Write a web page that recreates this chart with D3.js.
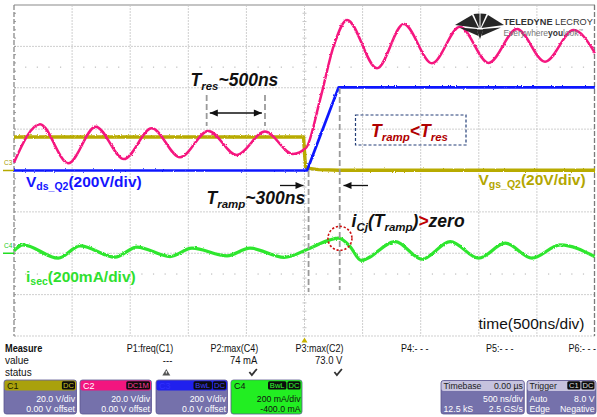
<!DOCTYPE html>
<html><head><meta charset="utf-8">
<script src="https://cdn.jsdelivr.net/npm/d3@7"></script>
<style>body{margin:0;background:#fff}svg{display:block}</style>
</head><body><svg id="c" width="597" height="417"></svg>
<script>
// ---------------- data ----------------
const timeDomain = [-2500, 2500];            // ns, 500 ns/div, 10 div
const gridTimes = d3.range(-2500, 2501, 500);
const gridDivs = d3.range(-4, 5, 1);
// C2 (pink) 20 V/div, 0 V offset  [time ns, volts]
const c2Pink = [[-2500,3.9],[-2276,22.4],[-2033,3.5],[-1797,21.2],[-1553,5.5],[-1315,20.4],[-1071,6.4],[-828,19.1],[-583,7.5],[-340,18.8],[-100,8.0],[13,10.9],[133,34],[254,60.7],[366,72.8],[624,49.4],[854,70.8],[1097,51.8],[1338,69.5],[1585,52.0],[1829,68.4],[2070,52.6],[2317,67.9],[2500,56.8]];
// C1 (yellow) Vgs_Q2 20 V/div
const c1Vgs = [[-2500,16.2],[-8,16.2],[8,2.0],[40,1.0],[120,0.4],[300,0.1],[2500,0.1]];
// C3 (blue) Vds_Q2 200 V/div
const c3Vds = [[-2500,0],[22,0],[294,402],[2500,402]];
// C4 (green) isec 200 mA/div, -400 mA offset  [time ns, mA]
const c4Isec = [[-2500,11.6],[-2423,40.6],[-2119,-23.7],[-1932,35.7],[-1631,-18.8],[-1442,29.5],[-1157,-15.9],[-968,24.6],[-667,-12.6],[-469,24.6],[-176,-19.8],[47,24.6],[219,64.7],[293,73],[392,32.4],[486,-34.3],[781,56.5],[1011,-28.5],[1255,56.5],[1499,-23.7],[1728,48.8],[1958,-23.7],[2201,40.6],[2496,-15.9]];
// measurement table
const measHeaders = ["P1:freq(C1)","P2:max(C4)","P3:max(C2)","P4:- - -","P5:- - -","P6:- - -"];
const measValues = ["---","74 mA","73.0 V","","",""];
const measStatus = ["warn","ok","ok","","",""];
const channels = [
  {name:"C1", head:"#a9a10c", headText:"#1a1a00", badges:["DC"], badgeText:"#c8c020", l1:"20.0 V/div", l2:"0.00 V offset"},
  {name:"C2", head:"#f2157f", headText:"#ffffff", badges:["DC1M"], badgeText:"#ff3a9a", l1:"20.0 V/div", l2:"0.00 V offset"},
  {name:"C3", head:"#2020ee", headText:"#3030ff", badges:["BwL","DC"], badgeText:"#4040ff", l1:"200 V/div", l2:"0.0 V offset"},
  {name:"C4", head:"#22ee22", headText:"#111", badges:["BwL","DC"], badgeText:"#33ff33", l1:"200 mA/div", l2:"-400.0 mA", green:true}
];

// ---------------- layout ----------------
const svg = d3.select("#c");
const L = 14, R = 595, T = 5, B = 336;
const x = d3.scaleLinear().domain(timeDomain).range([L, R]);
const yDiv = d3.scaleLinear().domain([-4, 4]).range([B, T]);
const yC1 = d3.scaleLinear().domain([-80, 80]).range([B, T]);
const yC2 = d3.scaleLinear().domain([-80, 80]).range([B, T]);
const yC3 = d3.scaleLinear().domain([-800, 800]).range([B, T]);
const yC4 = d3.scaleLinear().domain([-400, 1200]).range([B, T]);
const FONT = "'Liberation Sans', Arial, Helvetica, sans-serif";

const defs = svg.append("defs");
const filt = defs.append("filter").attr("id","noise").attr("x","-5%").attr("y","-20%").attr("width","110%").attr("height","140%");
filt.append("feTurbulence").attr("type","fractalNoise").attr("baseFrequency","0.9").attr("numOctaves","1").attr("seed","3").attr("result","t");
filt.append("feDisplacementMap").attr("in","SourceGraphic").attr("in2","t").attr("scale","2.6").attr("xChannelSelector","R").attr("yChannelSelector","G");

// grid
const grid = svg.append("g");
grid.selectAll("line.v").data(gridTimes.slice(1, -1)).join("line")
  .attr("x1", d => x(d)).attr("x2", d => x(d)).attr("y1", T).attr("y2", B)
  .attr("stroke", "#cfcfcf").attr("stroke-width", 1).attr("stroke-dasharray", "2,1");
grid.selectAll("line.h").data(gridDivs.slice(1, -1)).join("line")
  .attr("x1", L).attr("x2", R).attr("y1", d => yDiv(d)).attr("y2", d => yDiv(d))
  .attr("stroke", "#cfcfcf").attr("stroke-width", 1).attr("stroke-dasharray", "2,1");
// minor dots rows
const minorT = d3.range(-2500, 2500, 100).filter(t => t % 500 !== 0);
[2.5, -2.5].forEach(dv => {
  grid.selectAll(null).data(minorT).join("rect")
    .attr("x", d => x(d) - 0.5).attr("y", yDiv(dv) - 0.5).attr("width", 1.2).attr("height", 1.2).attr("fill", "#bdbdbd");
});
// centre vertical ticks and left border ticks
const minorDiv = d3.range(-4, 4.01, 0.2);
grid.selectAll(null).data(minorDiv).join("line")
  .attr("x1", x(0) - 2).attr("x2", x(0) + 2).attr("y1", d => yDiv(d)).attr("y2", d => yDiv(d))
  .attr("stroke", "#c8c8c8");
grid.selectAll(null).data(minorDiv).join("line")
  .attr("x1", L).attr("x2", L + 2).attr("y1", d => yDiv(d)).attr("y2", d => yDiv(d))
  .attr("stroke", "#9a9a9a");
// borders
svg.append("line").attr("x1", L).attr("x2", R).attr("y1", T).attr("y2", T).attr("stroke", "#c4c4c4").attr("stroke-width", 2);
svg.append("line").attr("x1", L).attr("x2", R).attr("y1", B).attr("y2", B).attr("stroke", "#cfcfcf").attr("stroke-width", 1).attr("stroke-dasharray","2,1");
svg.append("line").attr("x1", L).attr("x2", L).attr("y1", T).attr("y2", B).attr("stroke", "#8a8a8a").attr("stroke-width", 1.3).attr("stroke-dasharray", "5,2");
svg.append("line").attr("x1", R - 0.5).attr("x2", R - 0.5).attr("y1", T).attr("y2", B).attr("stroke", "#7a7a7a").attr("stroke-width", 1.3).attr("stroke-dasharray", "5,2");

// channel markers on left
svg.append("text").attr("x", 4).attr("y", 165).text("C3").attr("font-family", FONT).attr("font-size", 6.5).attr("fill", "#a59c00");
svg.append("line").attr("x1", 3).attr("x2", L).attr("y1", yC3(0)).attr("y2", yC3(0)).attr("stroke", "#b5aa00").attr("stroke-width", 1.5);
svg.append("text").attr("x", 4).attr("y", 248).text("C4").attr("font-family", FONT).attr("font-size", 6.5).attr("fill", "#22cc22");
svg.append("line").attr("x1", 3).attr("x2", L).attr("y1", yC4(0)).attr("y2", yC4(0)).attr("stroke", "#22dd22").attr("stroke-width", 1.5);

// traces
const traces = svg.append("g").attr("filter", "url(#noise)");
function trace(data, ys, color, w, curve) {
  traces.append("path").datum(data)
    .attr("d", d3.line().x(d => x(d[0])).y(d => ys(d[1])).curve(curve))
    .attr("fill", "none").attr("stroke", color).attr("stroke-width", w).attr("stroke-linejoin", "round");
}
trace(c1Vgs, yC1, "#b8ab00", 3.4, d3.curveLinear);
trace(c2Pink, yC2, "#f5157f", 2.5, d3.curveMonotoneX);
trace(c3Vds, yC3, "#0a18ff", 2.7, d3.curveLinear);
trace(c4Isec, yC4, "#2fe62f", 3.2, d3.curveMonotoneX);

// ---------------- annotations ----------------
function rich(xp, yp, parts, opts) {
  const t = svg.append("text").attr("x", xp).attr("y", yp)
    .attr("font-family", FONT).attr("font-weight", opts.weight || "bold")
    .attr("font-style", opts.style || "normal").attr("fill", opts.fill)
    .attr("text-anchor", opts.anchor || "start");
  let cur = 0;
  parts.forEach(p => {
    const off = p.sub ? (opts.subDy || 4) : 0;
    t.append("tspan").text(p.t).attr("dy", off - cur)
      .attr("font-size", p.sub ? opts.subSize : opts.size)
      .attr("fill", p.fill || null);
    cur = off;
  });
  return t;
}
function arrowHead(xTip, yTip, dir) {
  svg.append("path").attr("d", `M${xTip},${yTip} l${-dir * 8},-3.5 l0,7 z`).attr("fill", "#111");
}
function hArrow(x1, x2, yy, both) {
  svg.append("line").attr("x1", x1).attr("x2", x2).attr("y1", yy).attr("y2", yy).attr("stroke", "#111").attr("stroke-width", 1.3);
  arrowHead(x2, yy, x2 > x1 ? 1 : -1);
  if (both) arrowHead(x1, yy, x2 > x1 ? -1 : 1);
}
function dashV(t, y1, y2) {
  svg.append("line").attr("x1", x(t)).attr("x2", x(t)).attr("y1", y1).attr("y2", y2)
    .attr("stroke", "#9a9a9a").attr("stroke-width", 1.8).attr("stroke-dasharray", "6,3");
}

// Tres
rich(190.5, 86, [{t:"T"},{t:"res",sub:true},{t:"~500ns"}], {size:17.5, subSize:11.5, style:"italic", fill:"#111"});
dashV(-842, 95, 126); dashV(-340, 95, 126);
hArrow(x(-815), x(-367), 113, true);

// Vds label
rich(26, 187, [{t:"V"},{t:"ds_Q2",sub:true,},{t:"(200V/div)"}], {size:15.5, subSize:10.5, subDy:3, fill:"#1414ff"});
// Vgs label
rich(478.5, 185, [{t:"V"},{t:"gs_Q2",sub:true},{t:"(20V/div)"}], {size:15.5, subSize:10.5, subDy:3, fill:"#b3a600"});
// isec label
rich(26, 281.5, [{t:"i"},{t:"sec",sub:true},{t:"(200mA/div)"}], {size:15.5, subSize:10.5, subDy:3, fill:"#2fe02f"});

// Tramp
rich(206.5, 204, [{t:"T"},{t:"ramp",sub:true},{t:"~300ns"}], {size:17.5, subSize:11.5, style:"italic", fill:"#111"});
dashV(35, 171, 292); dashV(303, 88, 290);
hArrow(280, 303.5, 185.5, false);
hArrow(368, 343.5, 185.5, false);

// Tramp < Tres box
svg.append("rect").attr("x", 355.5).attr("y", 115).attr("width", 110.5).attr("height", 30)
  .attr("fill", "none").attr("stroke", "#243f78").attr("stroke-width", 1.2).attr("stroke-dasharray", "3,2");
rich(371, 136.5, [{t:"T"},{t:"ramp",sub:true},{t:"<T"},{t:"res",sub:true}], {size:17.5, subSize:11.5, style:"italic", fill:"#b00000"});

// iCj(Tramp) > zero
rich(351.5, 226.5, [{t:"i"},{t:"Cj",sub:true},{t:"(T"},{t:"ramp",sub:true},{t:")"},{t:">",fill:"#c00000"},{t:"zero"}], {size:17.5, subSize:11.5, style:"italic", fill:"#111"});
svg.append("circle").attr("cx", x(305)).attr("cy", yC4(72)).attr("r", 12)
  .attr("fill", "none").attr("stroke", "#cc1111").attr("stroke-width", 1.6).attr("stroke-dasharray", "2.2,1.8");

// time label
svg.append("text").attr("x", 584.5).attr("y", 328.5).attr("text-anchor", "end")
  .attr("font-family", FONT).attr("font-size", 15.5).attr("fill", "#111").text("time(500ns/div)");

// logo
const logo = svg.append("g").attr("fill", "#262626");
[
  [[455,25],[472,15],[478.5,28]],
  [[473.5,14],[479.5,13.5],[479.5,28]],
  [[480.5,13.5],[486.5,14],[480.5,28]],
  [[488,15],[504,25],[481.5,28]],
  [[476.5,29.5],[483.5,29.5],[480,39]],
  [[459,27.5],[477,29],[478.5,36]],
  [[501,27.5],[483,29],[481.5,36]]
].forEach(p => logo.append("polygon").attr("points", p.map(q => q.join(",")).join(" ")));
const lt = svg.append("text").attr("transform", "translate(503.5,25) scale(1.0,1)").attr("font-family", FONT).attr("font-size", 9.2).attr("fill", "#333");
lt.append("tspan").attr("font-weight", "bold").text("TELEDYNE ");
lt.append("tspan").text("LECROY");
const lt2 = svg.append("text").attr("transform", "translate(503.5,35.8) scale(1.03,1)").attr("font-family", FONT).attr("font-size", 8.2).attr("fill", "#777");
lt2.append("tspan").text("Everywhere");
lt2.append("tspan").attr("font-weight", "bold").attr("fill", "#333").text("you");
lt2.append("tspan").text("look");
lt2.append("tspan").attr("font-size", 4.5).attr("dy", -3.5).text("™");

// trigger marker
svg.append("path").attr("d", `M${x(0)},${B + 1.5} l-3,5 l6,0 z`).attr("fill", "#c8b400");

// ---------------- measure table ----------------
function ntext(xp, yp, str, o) {
  return svg.append("text").attr("transform", `translate(${xp},${yp}) scale(${o.sx || 1},1)`)
    .attr("font-family", FONT).attr("font-size", o.size || 10).attr("font-weight", o.weight || "normal")
    .attr("fill", o.fill || "#111").attr("text-anchor", o.anchor || "start").text(str);
}
ntext(5, 352, "Measure", {weight:"bold", sx:0.92});
ntext(5, 364, "value", {});
ntext(5, 375.5, "status", {});
measHeaders.forEach((h, i) => {
  const xr = Math.min(173.3 + i * 85.05, 596);
  ntext(xr, 352, h, {anchor:"end", sx:0.9});
  if (measValues[i]) ntext(xr - 1, 364, measValues[i], {anchor:"end", sx:0.95});
  if (measStatus[i] === "ok") {
    svg.append("path").attr("d", `M${xr - 9},${372} l2.5,3 l5,-6`).attr("fill", "none").attr("stroke", "#333").attr("stroke-width", 1.8);
  } else if (measStatus[i] === "warn") {
    svg.append("path").attr("d", `M${xr - 7},${369} l-4,6.5 l8,0 z`).attr("fill", "#555");
    svg.append("rect").attr("x", xr - 7.5).attr("y", 371).attr("width", 1).attr("height", 2.5).attr("fill", "#fff");
  }
});

// channel boxes
const BODY = "#7571ab";
const boxX = [4, 80, 156, 231];
const boxW = [72.5, 71.5, 71.5, 71];
function badges(list, xRight, fillText) {
  let xr = xRight;
  list.slice().reverse().forEach(b => {
    const w = b.length * 5.3 + 2.5;
    svg.append("rect").attr("x", xr - w).attr("y", 381.3).attr("width", w).attr("height", 8.2).attr("rx", 1.5).attr("fill", "#0c0c0c");
    ntext(xr - w / 2, 388.3, b, {anchor:"middle", size:8, fill:fillText, sx:0.95});
    xr -= w + 1;
  });
}
const BT = 9.5, BSX = 0.92;
channels.forEach((c, i) => {
  const bx = boxX[i], bw = boxW[i];
  svg.append("rect").attr("x", bx).attr("y", 380).attr("width", bw).attr("height", 34).attr("rx", 2.5)
    .attr("fill", c.green ? c.head : BODY).attr("stroke", "#5a5690").attr("stroke-width", 0.8);
  svg.append("rect").attr("x", bx + 0.5).attr("y", 380.5).attr("width", bw - 1).attr("height", 10).attr("rx", 2)
    .attr("fill", c.head);
  ntext(bx + 3, 388.5, c.name, {size:9.5, fill:c.headText, sx:0.95});
  badges(c.badges, bx + bw - 1.5, c.badgeText);
  const tc = c.green ? "#111" : "#ffffff";
  ntext(bx + bw - 1.5, 401.5, c.l1, {anchor:"end", size:BT, fill:tc, sx:BSX});
  ntext(bx + bw - 1.5, 412, c.l2, {anchor:"end", size:BT, fill:tc, sx:BSX});
});
// timebase / trigger boxes
function infoBox(bx, bw, title, right, rows, badgeList) {
  svg.append("rect").attr("x", bx).attr("y", 380.5).attr("width", bw).attr("height", 33.5).attr("rx", 2.5).attr("fill", BODY).attr("stroke", "#5a5690").attr("stroke-width", 0.8);
  svg.append("rect").attr("x", bx + 0.5).attr("y", 381).attr("width", bw - 1).attr("height", 10).attr("rx", 2).attr("fill", "#c6c2de");
  ntext(bx + 2.5, 389.2, title, {size:BT, fill:"#222", sx:BSX});
  if (right) ntext(bx + bw - 1.5, 389.2, right, {size:BT, fill:"#222", anchor:"end", sx:BSX});
  if (badgeList) badges(badgeList, bx + bw - 1.5, "#dddddd");
  rows.forEach((r, k) => {
    const yy = 401.5 + k * 10.5;
    if (r[0]) ntext(bx + 2.5, yy, r[0], {size:BT, fill:"#fff", sx:BSX});
    if (r[1]) ntext(bx + bw - 1.5, yy, r[1], {size:BT, fill:"#fff", anchor:"end", sx:BSX});
  });
}
infoBox(441, 83.3, "Timebase", "0.00 µs", [["", "500 ns/div"], ["12.5 kS", "2.5 GS/s"]]);
infoBox(527, 69, "Trigger", null, [["Auto", "8.0 V"], ["Edge", "Negative"]], ["C1", "DC"]);
</script></body></html>
